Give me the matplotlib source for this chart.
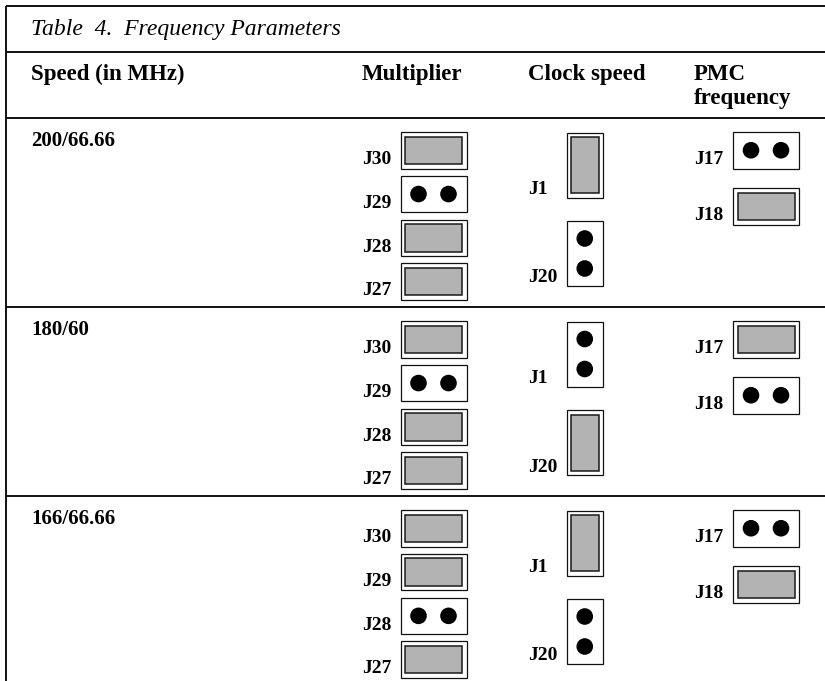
"""Table 4 of the board manual: jumper settings per CPU/bus speed."""
import matplotlib
matplotlib.use('Agg')
from matplotlib import pyplot as plt
from matplotlib.patches import Rectangle, Circle

plt.rcParams['font.family'] = ['Liberation Serif', 'DejaVu Serif']

# --- table content ---------------------------------------------------------
title = 'Table  4.  Frequency Parameters'
headers = ['Speed (in MHz)', 'Multiplier', 'Clock speed', 'PMC\nfrequency']
speeds = ['200/66.66', '180/60', '166/66.66']

# True = pins open (two dots), False = shunt fitted (grey block)
multiplier_jumpers = ['J30', 'J29', 'J28', 'J27']
multiplier_open = [[False, True, False, False],
                   [False, True, False, False],
                   [False, False, True, False]]
clock_jumpers = ['J1', 'J20']
clock_open = [[False, True],
              [True, False],
              [False, True]]
pmc_jumpers = ['J17', 'J18']
pmc_open = [[True, False],
            [False, True],
            [True, False]]

# --- layout (pixels) -------------------------------------------------------
W, H = 825, 681
ROW_TOP = 118
ROW_H = 189
GREY = '#b3b3b3'


def jumper(ax, x, y, w, h, is_open, vertical=False):
    """Draw one 2-pin jumper, either open pins or with a shunt on it."""
    ax.add_patch(Rectangle((x, y), w, h, facecolor='white',
                           edgecolor='#111111', lw=0.9))
    if is_open:
        cx, cy = x + w / 2, y + h / 2
        for d in (-15, 15):
            pos = (cx, cy + d) if vertical else (cx + d, cy)
            ax.add_patch(Circle(pos, 8.3, color='black', lw=0))
    else:
        ins = 4.5
        ax.add_patch(Rectangle((x + ins, y + ins), w - 2 * ins, h - 2 * ins,
                               facecolor=GREY, edgecolor='#1a1a1a', lw=1.1))


def label(ax, x, y, text):
    ax.text(x, y, text, fontsize=14, fontweight='bold', va='baseline',
            ha='left')


fig = plt.figure(figsize=(W / 100, H / 100), dpi=100)
ax = fig.add_axes([0, 0, 1, 1])
ax.set_xlim(0, W)
ax.set_ylim(H, 0)
ax.axis('off')

# rules
rule = dict(color='#111111', lw=1.4, solid_capstyle='butt')
ax.plot([6, 6], [6, H], **rule)
for yy in [6, 52, ROW_TOP] + [ROW_TOP + ROW_H * i for i in (1, 2)]:
    ax.plot([6, W], [yy, yy], **rule)

ax.text(31, 35, title, fontsize=17, fontstyle='italic', va='baseline')

col_x = [31, 362, 528, 694]
for x, h in zip(col_x, headers):
    # one text per line so the first line sits on the common baseline
    for n, line in enumerate(h.split('\n')):
        ax.text(x, 80 + 24 * n, line, fontsize=16.5, fontweight='bold',
                va='baseline')

for i, speed in enumerate(speeds):
    top = ROW_TOP + ROW_H * i
    ax.text(31, top + 28, speed, fontsize=15, fontweight='bold',
            va='baseline')

    # multiplier: four horizontal jumpers
    for k, name in enumerate(multiplier_jumpers):
        y = top + 14 + k * 43.8
        jumper(ax, 400.5, y, 66, 36.5, multiplier_open[i][k])
        label(ax, 362, y + 36.5 - 4.5, name)

    # clock speed: two vertical jumpers
    for k, name in enumerate(clock_jumpers):
        y = top + 14.5 + k * 88.5
        jumper(ax, 566.5, y, 36.5, 65, clock_open[i][k], vertical=True)
        label(ax, 528, y + 65 - 3.5, name)

    # PMC frequency: two horizontal jumpers
    for k, name in enumerate(pmc_jumpers):
        y = top + 14 + k * 56
        jumper(ax, 733, y, 66, 36.5, pmc_open[i][k])
        label(ax, 694, y + 36.5 - 4.5, name)

fig.savefig('out.png', dpi=100)
